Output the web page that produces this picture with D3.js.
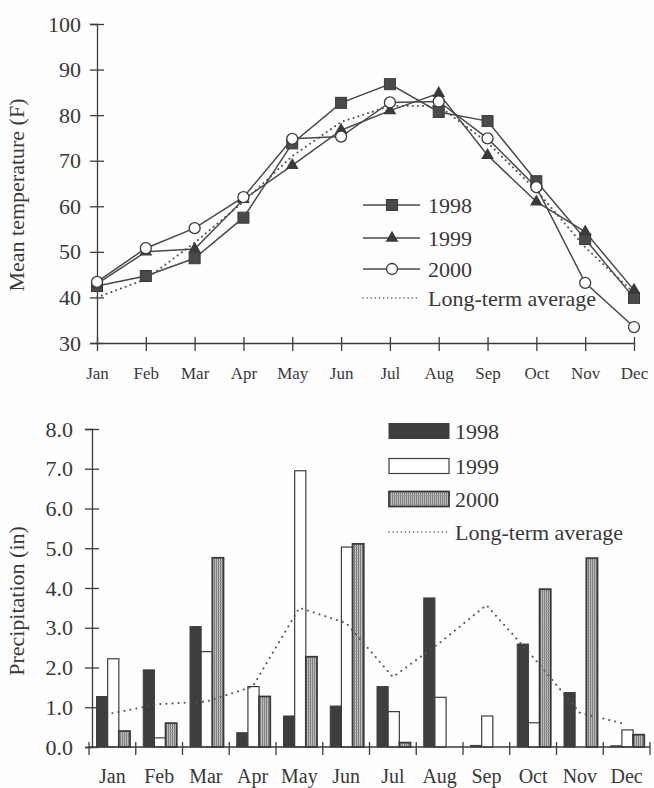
<!DOCTYPE html>
<html>
<head>
<meta charset="utf-8">
<script src="https://cdn.jsdelivr.net/npm/d3@7"></script>
<style>
  body { margin: 0; background: #fefefe; }
  svg { display: block; }
  text { fill: #383838; font-family: "Liberation Serif", "Times New Roman", serif; }
</style>
</head>
<body>
<svg id="chart" width="654" height="788" font-family="Liberation Serif"></svg>
<script>
const months = ["Jan", "Feb", "Mar", "Apr", "May", "Jun", "Jul", "Aug", "Sep", "Oct", "Nov", "Dec"];

// mean temperature (F)
const temp1998 = [42.5, 44.7, 48.6, 57.5, 73.8, 82.7, 86.8, 80.7, 78.7, 65.5, 52.8, 39.9];
const temp1999 = [43.0, 50.0, 50.6, 61.5, 69.0, 76.7, 81.0, 84.8, 71.2, 61.0, 54.4, 41.6];
const temp2000 = [43.4, 50.8, 55.2, 62.0, 74.8, 75.3, 82.8, 83.0, 74.9, 64.2, 43.2, 33.5];
const tempAvg = [40.0, 44.0, 52.0, 61.0, 71.0, 78.5, 82.0, 82.0, 74.0, 63.5, 51.0, 41.0];
const tempTicks = [30, 40, 50, 60, 70, 80, 90, 100];

// precipitation (in)
const prec1998 = [1.27, 1.94, 3.03, 0.36, 0.78, 1.03, 1.52, 3.75, 0.04, 2.59, 1.37, 0.03];
const prec1999 = [2.22, 0.23, 2.40, 1.52, 6.95, 5.03, 0.89, 1.25, 0.78, 0.61, 0, 0.43];
const prec2000 = [0.40, 0.60, 4.76, 1.27, 2.27, 5.11, 0.11, 0, 0, 3.97, 4.75, 0.31];
const precAvg = [0.85, 1.08, 1.14, 1.52, 3.50, 3.12, 1.76, 2.62, 3.57, 2.26, 0.86, 0.57];
const precTicks = [0, 1, 2, 3, 4, 5, 6, 7, 8];

const years = ["1998", "1999", "2000"];
const ink = "#3c3c3c";

const svg = d3.select("#chart");

const defs = svg.append("defs");
const pat = defs.append("pattern").attr("id", "hatch")
    .attr("width", 2).attr("height", 3).attr("patternUnits", "userSpaceOnUse");
pat.append("rect").attr("width", 2).attr("height", 3).attr("fill", "#c2c2c2");
pat.append("rect").attr("width", 1).attr("height", 3).attr("fill", "#7c7c7c");
pat.append("rect").attr("width", 2).attr("height", 0.6).attr("fill", "#999");

// ---------- top chart: temperature ----------
const xT = d3.scalePoint().domain(months).range([97, 634]);
const yT = d3.scaleLinear().domain([30, 100]).range([343, 24]);

const gTop = svg.append("g");

gTop.append("g").attr("transform", "translate(97,0)")
    .call(d3.axisLeft(yT).tickValues(tempTicks).tickSizeOuter(0).tickSize(7).tickPadding(9))
    .attr("font-family", "Liberation Serif")
    .call(g => g.select(".domain").attr("stroke", ink).attr("stroke-width", 1.3))
    .call(g => g.selectAll(".tick line").attr("x1", 7).attr("x2", -7).attr("stroke", ink).attr("stroke-width", 1.3))
    .call(g => g.selectAll(".tick text").attr("x", -16).attr("font-size", 22).attr("fill", "#383838"));

gTop.append("g").attr("transform", "translate(0,343)")
    .call(d3.axisBottom(xT).tickSizeOuter(0))
    .attr("font-family", "Liberation Serif")
    .call(g => g.select(".domain").attr("stroke", ink).attr("stroke-width", 1.3))
    .call(g => g.selectAll(".tick line").attr("y1", -6).attr("y2", 8).attr("stroke", ink).attr("stroke-width", 1.3))
    .call(g => g.selectAll(".tick text").attr("y", 36).attr("dy", 0).attr("font-size", 17).attr("fill", "#383838"));

gTop.append("text").attr("transform", "translate(24,195) rotate(-90)")
    .attr("text-anchor", "middle").attr("font-size", 22).text("Mean temperature (F)");

const lineT = d3.line().x((d, i) => xT(months[i])).y(d => yT(d));

gTop.append("path").datum(tempAvg).attr("d", lineT)
    .attr("fill", "none").attr("stroke", "#555").attr("stroke-width", 2)
    .attr("stroke-dasharray", "0.1,5").attr("stroke-linecap", "round");

const tempSeries = [
    { name: "1998", values: temp1998, marker: "square" },
    { name: "1999", values: temp1999, marker: "triangle" },
    { name: "2000", values: temp2000, marker: "circle" }
];

function drawMarker(g, type, x, y) {
    if (type === "square") {
        g.append("rect").attr("x", x - 5.5).attr("y", y - 5.5).attr("width", 11).attr("height", 11)
            .attr("fill", "#4a4a4a").attr("stroke", "#3a3a3a").attr("stroke-width", 1);
    } else if (type === "triangle") {
        g.append("path").attr("d", d3.symbol(d3.symbolTriangle, 70)()).attr("transform", `translate(${x},${y})`)
            .attr("fill", "#3a3a3a");
    } else {
        g.append("circle").attr("cx", x).attr("cy", y).attr("r", 5.5)
            .attr("fill", "#fff").attr("stroke", "#3a3a3a").attr("stroke-width", 1.3);
    }
}

tempSeries.forEach(s => {
    gTop.append("path").datum(s.values).attr("d", lineT)
        .attr("fill", "none").attr("stroke", "#4a4a4a").attr("stroke-width", 1.5);
});
tempSeries.forEach(s => {
    s.values.forEach((v, i) => drawMarker(gTop, s.marker, xT(months[i]), yT(v)));
});

// top legend
const legT = gTop.append("g");
const legRowsT = [205, 238, 269, 298];
tempSeries.forEach((s, i) => {
    const y = legRowsT[i];
    legT.append("line").attr("x1", 363).attr("x2", 420).attr("y1", y).attr("y2", y)
        .attr("stroke", "#4a4a4a").attr("stroke-width", 1.5);
    drawMarker(legT, s.marker, 392, y);
    legT.append("text").attr("x", 428).attr("y", y + 7.5).attr("font-size", 22).text(s.name);
});
legT.append("line").attr("x1", 363).attr("x2", 420).attr("y1", legRowsT[3]).attr("y2", legRowsT[3])
    .attr("stroke", "#555").attr("stroke-width", 1.5).attr("stroke-dasharray", "0.1,4").attr("stroke-linecap", "round");
legT.append("text").attr("x", 428).attr("y", legRowsT[3] + 7.5).attr("font-size", 22).text("Long-term average");

// ---------- bottom chart: precipitation ----------
const xP = d3.scaleBand().domain(months).range([89, 650]).padding(0);
const xS = d3.scaleBand().domain(years).range([7.5, 41]).padding(0);
const yP = d3.scaleLinear().domain([0, 8]).range([747, 429]);

const gBot = svg.append("g");

gBot.append("g").attr("transform", "translate(92,0)")
    .call(d3.axisLeft(yP).tickValues(precTicks).tickFormat(d3.format(".1f")).tickSizeOuter(0).tickSize(7).tickPadding(9))
    .attr("font-family", "Liberation Serif")
    .call(g => g.select(".domain").attr("stroke", ink).attr("stroke-width", 1.3))
    .call(g => g.selectAll(".tick line").attr("x1", 7).attr("x2", -7).attr("stroke", ink).attr("stroke-width", 1.3))
    .call(g => g.selectAll(".tick text").attr("x", -19).attr("font-size", 22).attr("fill", "#383838"));

gBot.append("text").attr("transform", "translate(24,601) rotate(-90)")
    .attr("text-anchor", "middle").attr("font-size", 22).text("Precipitation (in)");

const precSeries = [
    { name: "1998", values: prec1998, fill: "#3e3e3e", stroke: "#3e3e3e", sw: 1 },
    { name: "1999", values: prec1999, fill: "#fff", stroke: "#3e3e3e", sw: 1.2 },
    { name: "2000", values: prec2000, fill: "url(#hatch)", stroke: "#3a3a3a", sw: 1.8 }
];

precSeries.forEach(s => {
    const data = s.values.map((v, i) => ({ m: months[i], v })).filter(d => d.v > 0);
    gBot.append("g").selectAll("rect").data(data).enter().append("rect")
        .attr("x", d => xP(d.m) + xS(s.name))
        .attr("width", xS.bandwidth())
        .attr("y", d => yP(d.v))
        .attr("height", d => yP(0) - yP(d.v))
        .attr("fill", s.fill).attr("stroke", s.stroke).attr("stroke-width", s.sw);
});

// x axis with ticks at band edges
const xAxisP = gBot.append("g").attr("transform", "translate(0,747)");
xAxisP.append("line").attr("x1", xP.range()[0]).attr("x2", xP.range()[1])
    .attr("stroke", ink).attr("stroke-width", 1.3);
const edges = months.map(m => xP(m)).concat([xP(months[11]) + xP.bandwidth()]);
xAxisP.selectAll("line.edge").data(edges).enter().append("line").attr("class", "edge")
    .attr("x1", d => d).attr("x2", d => d).attr("y1", -5).attr("y2", 8)
    .attr("stroke", ink).attr("stroke-width", 1.3);
xAxisP.selectAll("text").data(months).enter().append("text")
    .attr("x", d => xP(d) + xP.bandwidth() / 2).attr("y", 36)
    .attr("text-anchor", "middle").attr("font-size", 20).text(d => d);

const lineP = d3.line().x((d, i) => xP(months[i]) + xP.bandwidth() / 2).y(d => yP(d));
gBot.append("path").datum(precAvg).attr("d", lineP)
    .attr("fill", "none").attr("stroke", "#555").attr("stroke-width", 2)
    .attr("stroke-dasharray", "0.1,6").attr("stroke-linecap", "round");

// bottom legend
const legP = gBot.append("g");
const legRowsP = [431, 466, 499, 532];
precSeries.forEach((s, i) => {
    const y = legRowsP[i];
    legP.append("rect").attr("x", 389).attr("y", y - 7.5).attr("width", 60).attr("height", 15)
        .attr("fill", s.fill).attr("stroke", s.stroke).attr("stroke-width", s.sw);
    legP.append("text").attr("x", 455).attr("y", y + 7.5).attr("font-size", 22).text(s.name);
});
legP.append("line").attr("x1", 389).attr("x2", 449).attr("y1", legRowsP[3]).attr("y2", legRowsP[3])
    .attr("stroke", "#555").attr("stroke-width", 1.5).attr("stroke-dasharray", "0.1,4").attr("stroke-linecap", "round");
legP.append("text").attr("x", 455).attr("y", legRowsP[3] + 7.5).attr("font-size", 22).text("Long-term average");
</script>
</body>
</html>
